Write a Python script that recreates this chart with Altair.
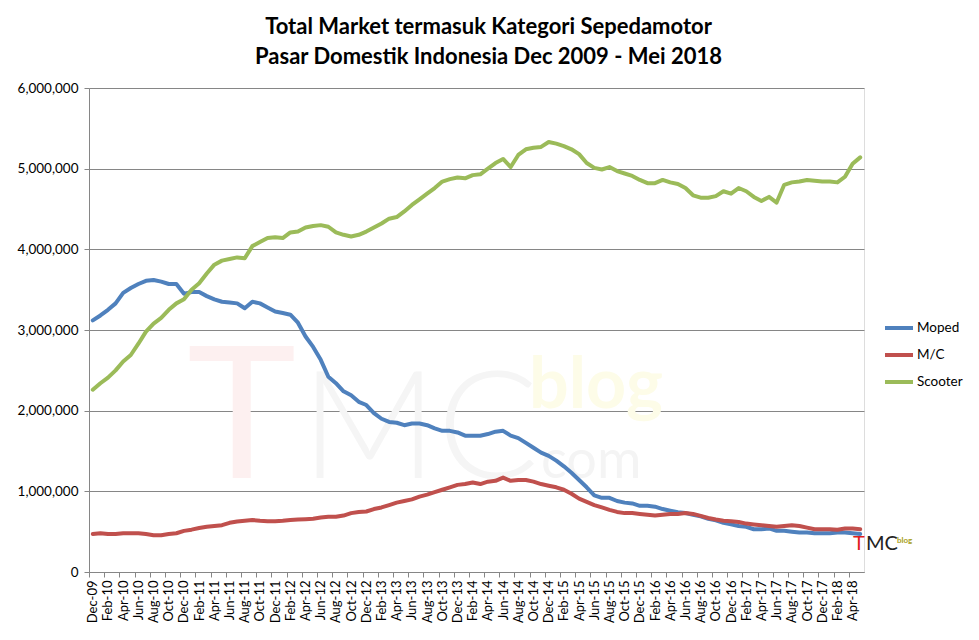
import altair as alt
import pandas as pd

# monthly sales, Dec-2009 .. May-2018 (values in millions of units)
months = pd.date_range("2009-12-01", "2018-05-01", freq="MS").strftime("%b-%y").tolist()

moped = [
    3.12, 3.18, 3.25, 3.33, 3.46, 3.52, 3.57, 3.61, 3.62, 3.60,
    3.57, 3.57, 3.45, 3.47, 3.47, 3.42, 3.38, 3.35, 3.34, 3.33,
    3.27, 3.35, 3.33, 3.28, 3.23, 3.21, 3.19, 3.09, 2.92, 2.79,
    2.63, 2.42, 2.34, 2.24, 2.19, 2.11, 2.07, 1.97, 1.90, 1.86,
    1.85, 1.82, 1.84, 1.84, 1.82, 1.78, 1.75, 1.75, 1.73, 1.69,
    1.69, 1.69, 1.71, 1.74, 1.75, 1.69, 1.66, 1.60, 1.54, 1.48,
    1.44, 1.38, 1.31, 1.23, 1.14, 1.05, 0.95, 0.92, 0.92, 0.88,
    0.86, 0.85, 0.82, 0.82, 0.81, 0.78, 0.76, 0.74, 0.73, 0.71,
    0.69, 0.66, 0.64, 0.61, 0.59, 0.57, 0.56, 0.53, 0.53, 0.54,
    0.51, 0.51, 0.50, 0.49, 0.49, 0.48, 0.48, 0.48, 0.49, 0.49,
    0.48, 0.47,
]
mc = [
    0.47, 0.48, 0.47, 0.47, 0.48, 0.48, 0.48, 0.47, 0.455, 0.455,
    0.47, 0.48, 0.51, 0.525, 0.545, 0.56, 0.57, 0.58, 0.61, 0.625,
    0.635, 0.645, 0.635, 0.63, 0.63, 0.635, 0.645, 0.65, 0.655, 0.66,
    0.675, 0.685, 0.685, 0.70, 0.73, 0.745, 0.75, 0.78, 0.80, 0.83,
    0.86, 0.88, 0.90, 0.935, 0.96, 0.99, 1.02, 1.05, 1.08, 1.09,
    1.11, 1.09, 1.12, 1.13, 1.17, 1.13, 1.14, 1.14, 1.12, 1.09,
    1.07, 1.05, 1.02, 0.97, 0.91, 0.87, 0.83, 0.80, 0.77, 0.745,
    0.73, 0.73, 0.72, 0.71, 0.70, 0.71, 0.72, 0.72, 0.73, 0.72,
    0.695, 0.67, 0.65, 0.635, 0.63, 0.62, 0.60, 0.59, 0.58, 0.57,
    0.56, 0.57, 0.58, 0.57, 0.55, 0.53, 0.53, 0.53, 0.525, 0.54,
    0.54, 0.53,
]
scooter = [
    2.26, 2.34, 2.41, 2.50, 2.61, 2.69, 2.83, 2.98, 3.08, 3.15,
    3.25, 3.33, 3.38, 3.50, 3.58, 3.70, 3.81, 3.86, 3.88, 3.90,
    3.89, 4.04, 4.09, 4.14, 4.15, 4.14, 4.21, 4.22, 4.27, 4.29,
    4.30, 4.28, 4.21, 4.18, 4.16, 4.18, 4.22, 4.27, 4.32, 4.38,
    4.40, 4.47, 4.55, 4.62, 4.69, 4.76, 4.84, 4.87, 4.89, 4.88,
    4.92, 4.93, 5.00, 5.07, 5.12, 5.02, 5.17, 5.24, 5.26, 5.27,
    5.33, 5.31, 5.28, 5.24, 5.18, 5.07, 5.01, 4.99, 5.02, 4.97,
    4.94, 4.91, 4.86, 4.82, 4.82, 4.86, 4.83, 4.81, 4.76, 4.67,
    4.64, 4.64, 4.66, 4.72, 4.69, 4.76, 4.72, 4.65, 4.60, 4.65,
    4.58, 4.80, 4.83, 4.84, 4.86, 4.85, 4.84, 4.84, 4.83, 4.90,
    5.06, 5.14,
]

series = ["Moped", "M/C", "Scooter"]
colors = ["#4F81BD", "#C0504D", "#9BBB59"]
y_ticks = [0, 1_000_000, 2_000_000, 3_000_000, 4_000_000, 5_000_000, 6_000_000]

W, H = 775, 484
n = len(months)
half_cat = W / n / 2

rows = []
for name, vals in zip(series, [moped, mc, scooter]):
    for i, v in enumerate(vals):
        rows.append({"pos": i + 0.5, "month": months[i], "series": name, "value": v * 1_000_000})
df = pd.DataFrame(rows)

# label lookup: axis values sit on every other category centre
js_months = "[" + ",".join("'%s'" % m for m in months) + "]"
label_expr = "datum.value < %d ? %s[floor(datum.value)] : ''" % (n, js_months)
x_values = [i + 0.5 for i in range(0, n - 1, 2)] + [n + 0.5]

lines = (
    alt.Chart(df)
    .mark_line(strokeWidth=4, strokeJoin="round", strokeCap="round")
    .encode(
        x=alt.X(
            "pos:Q",
            scale=alt.Scale(domain=[0, n], nice=False, zero=False),
            axis=alt.Axis(
                title=None,
                values=x_values,
                labelExpr=label_expr,
                labelAngle=270,
                labelFontSize=13,
                labelFont="Lato",
                labelColor="#000000",
                tickOffset=-half_cat,
                labelOffset=half_cat,
                tickSize=5,
                tickColor="#868686",
                domainColor="#868686",
                grid=False,
                labelPadding=3,
            ),
        ),
        y=alt.Y(
            "value:Q",
            scale=alt.Scale(domain=[0, 6_000_000], nice=False),
            axis=alt.Axis(
                title=None,
                values=y_ticks,
                format=",d",
                labelFontSize=13.5,
                labelFont="Lato",
                labelColor="#000000",
                tickSize=5,
                tickColor="#868686",
                domainColor="#868686",
                gridColor="#868686",
                labelPadding=6,
            ),
        ),
        color=alt.Color(
            "series:N",
            scale=alt.Scale(domain=series, range=colors),
            sort=series,
            legend=alt.Legend(
                title=None,
                orient="none",
                legendX=794,
                legendY=224,
                symbolType="stroke",
                symbolSize=784,
                symbolStrokeWidth=4,
                labelFontSize=13.5,
                labelFont="Lato",
                labelColor="#000000",
                labelOffset=2,
                rowPadding=3,
            ),
        ),
    )
)

# faint TMCblog watermark
wm = pd.DataFrame({"txt": ["T", "MC", "blog", "com"]})
watermark = alt.layer(
    alt.Chart(wm.iloc[[0]]).mark_text(fontSize=185, font="Lato", align="left", baseline="alphabetic", color="#fdf0f0").encode(
        text="txt:N", x=alt.value(98), y=alt.value(390)
    ),
    alt.Chart(wm.iloc[[1]]).mark_text(fontSize=150, font="Lato", fontWeight=300, align="left", baseline="alphabetic", color="#f5f5f5").encode(
        text="txt:N", x=alt.value(212), y=alt.value(390)
    ),
    alt.Chart(wm.iloc[[2]]).mark_text(fontSize=70, font="Lato", fontWeight="bold", align="left", baseline="alphabetic", color="#fdfce8").encode(
        text="txt:N", x=alt.value(440), y=alt.value(320)
    ),
    alt.Chart(wm.iloc[[3]]).mark_text(fontSize=54, font="Lato", align="left", baseline="alphabetic", color="#f4f4f4").encode(
        text="txt:N", x=alt.value(452), y=alt.value(390)
    ),
)

# small logo in the bottom right corner
logo = pd.DataFrame({"txt": ["T", "MC", "blog"]})
small_logo = alt.layer(
    alt.Chart(logo.iloc[[0]]).mark_text(fontSize=20, font="Lato", align="left", baseline="alphabetic", color="#e0201b").encode(
        text="txt:N", x=alt.value(764), y=alt.value(462)
    ),
    alt.Chart(logo.iloc[[1]]).mark_text(fontSize=20, font="Lato", align="left", baseline="alphabetic", color="#222222").encode(
        text="txt:N", x=alt.value(777), y=alt.value(462)
    ),
    alt.Chart(logo.iloc[[2]]).mark_text(fontSize=8, font="Lato", fontWeight="bold", align="left", baseline="alphabetic", color="#a8a020").encode(
        text="txt:N", x=alt.value(808), y=alt.value(455)
    ),
)

chart = (
    alt.layer(watermark, lines, small_logo)
    .properties(
        width=W,
        height=H,
        autosize=alt.AutoSizeParams(type="none"),
        padding={"left": 81, "top": 80, "right": 107, "bottom": 60},
        title=alt.Title(
            ["Total Market termasuk Kategori Sepedamotor", "Pasar Domestik Indonesia Dec 2009 - Mei 2018"],
            fontSize=22,
            font="Lato",
            fontWeight="bold",
            color="#000000",
            lineHeight=30,
            anchor="middle",
            dx=12,
            offset=12,
        ),
    )
    .configure_view(strokeWidth=0)
    .configure(background="#ffffff")
)

chart.save("out.html", embed_options={"renderer": "svg", "actions": False})
